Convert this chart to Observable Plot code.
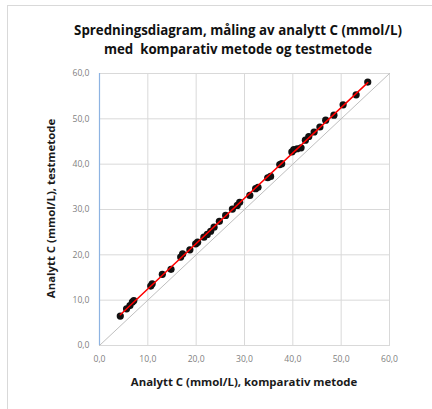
<!DOCTYPE html>
<html>
<head>
<meta charset="utf-8">
<script src="https://cdn.jsdelivr.net/npm/d3@7"></script>
<script src="https://cdn.jsdelivr.net/npm/@observablehq/plot@0.6"></script>
<style>
  html, body { margin: 0; padding: 0; background: #fff; }
  #wrap { position: relative; width: 432px; height: 409px; overflow: hidden; font-family: "Open Sans", sans-serif; }
  #border { position: absolute; left: 7px; top: 5px; width: 440px; height: 420px; border-top: 1px solid #d9d9d9; border-left: 1px solid #d9d9d9; }
  .title { position: absolute; left: 0; width: 476px; text-align: center; font-weight: bold; font-size: 13.3px; color: #111; white-space: nowrap; }
  .axt { position: absolute; font-weight: bold; font-size: 11.4px; color: #1a1a1a; white-space: nowrap; text-align: center; }
</style>
</head>
<body>
<div id="wrap">
  <div id="border"></div>
  <div id="chart"></div>
  <div class="title" style="top:21px">Spredningsdiagram, måling av analytt C (mmol/L)</div>
  <div class="title" style="top:40px">med&nbsp; komparativ metode og testmetode</div>
  <div class="axt" id="xt" style="left:99px; width:290px; top:374px">Analytt C (mmol/L), komparativ metode</div>
  <div class="axt" id="yt" style="left:-95px; width:290px; top:201px; transform: rotate(-90deg);">Analytt C (mmol/L), testmetode</div>
</div>
<script>
const kompX = [4.3, 5.6, 6.3, 6.8, 7.1, 10.6, 10.9, 13.0, 14.8, 16.8, 17.2, 18.7, 19.9, 20.3, 21.6, 22.3, 23.0, 23.7, 24.8, 26.1, 27.5, 28.5, 29.0, 31.1, 32.3, 32.8, 34.8, 35.4, 37.3, 37.7, 39.8, 40.2, 40.9, 41.7, 42.6, 43.3, 44.4, 45.6, 46.8, 48.5, 50.4, 53.1, 55.5];
const testY = [6.5, 8.1, 8.8, 9.6, 9.9, 13.1, 13.6, 15.7, 16.8, 19.5, 20.2, 21.1, 22.4, 22.8, 23.9, 24.5, 25.2, 26.1, 27.4, 28.7, 30.1, 30.9, 31.6, 33.1, 34.6, 34.9, 37.0, 37.3, 39.9, 40.1, 42.7, 43.2, 43.4, 43.6, 45.3, 46.1, 47.1, 48.2, 49.7, 50.8, 53.1, 55.3, 58.1];
const axisTicks = [0, 10, 20, 30, 40, 50, 60];
const identity = [0, 60];

const data = kompX.map((x, i) => ({x, y: testY[i]}));
const fmt = d => d.toFixed(1).replace(".", ",");

const chart = Plot.plot({
  width: 432,
  height: 409,
  marginLeft: 99,
  marginRight: 43,
  marginTop: 73,
  marginBottom: 64,
  style: {background: "transparent", fontFamily: "Open Sans, sans-serif"},
  x: {domain: [0, 60]},
  y: {domain: [0, 60]},
  marks: [
    Plot.gridX(axisTicks, {stroke: "#d9d9d9", strokeOpacity: 1}),
    Plot.gridY(axisTicks, {stroke: "#d9d9d9", strokeOpacity: 1}),
    Plot.frame({stroke: "#d9d9d9"}),
    Plot.ruleX([0], {stroke: "#8db3e2", strokeWidth: 1.2}),
    Plot.line(identity, {x: d => d, y: d => d, stroke: "#bfbfbf", strokeWidth: 1}),
    Plot.dot(data, {x: "x", y: "y", r: 3.6, fill: "#111", stroke: "none"}),
    Plot.linearRegressionY(data, {x: "x", y: "y", stroke: "#ff0000", strokeWidth: 1.5, ci: 0}),
    Plot.axisX(axisTicks, {tickFormat: fmt, tickSize: 0, tickPadding: 10, fontSize: 8.6, fill: "#7f7f7f", label: null}),
    Plot.axisY(axisTicks, {tickFormat: fmt, tickSize: 0, tickPadding: 10, fontSize: 8.6, fill: "#7f7f7f", label: null})
  ]
});
document.getElementById("chart").appendChild(chart);
</script>
</body>
</html>
